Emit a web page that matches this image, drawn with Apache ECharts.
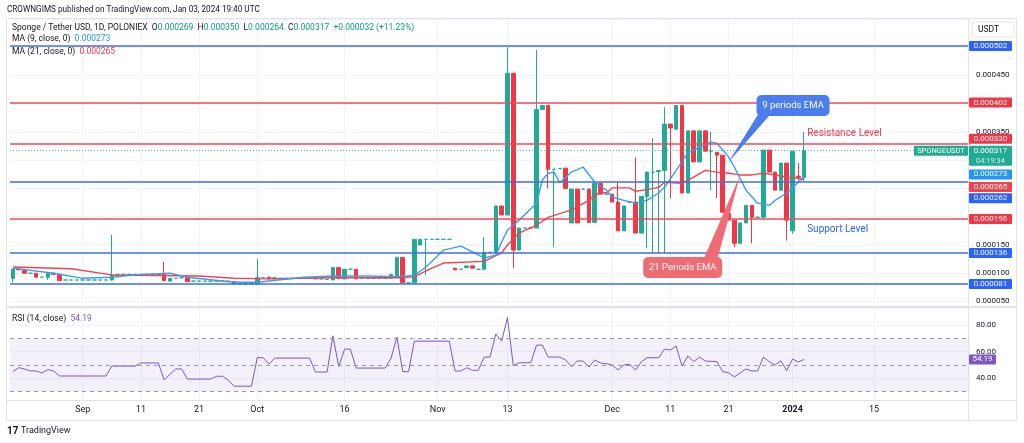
<!DOCTYPE html>
<html lang="en">
<head>
<meta charset="UTF-8">
<title>SPONGE / USDT 1D</title>
<script src="https://cdn.jsdelivr.net/npm/echarts@6.0.0/dist/echarts.min.js"></script>
<style>
    html, body { margin: 0; padding: 0; background: #fff; }
    #chart { width: 1024px; height: 443px; }
</style>
</head>
<body>
<div id="chart"></div>
<script type="text/javascript">
    // prices are in millionths of USDT (0.000001)
    var firstDay = Date.UTC(2023, 7, 20);
    var dayCount = 165;

    var tickDates = ['2023-09-01', '2023-09-11', '2023-09-21', '2023-10-01', '2023-10-16', '2023-11-01',
        '2023-11-13', '2023-12-01', '2023-12-11', '2023-12-21', '2024-01-01', '2024-01-15'];
    var tickTexts = ['Sep', '11', '21', 'Oct', '16', 'Nov', '13', 'Dec', '11', '21', '2024', '15'];

    // [open, close, low, high], one per day from Aug 20
    var candles = [
        [91, 107, 84, 108], [107, 106, 106, 107], [105, 100, 99, 106], [100, 100, 100, 100],
        [100, 93, 92, 100], [93, 93, 93, 93], [93, 100, 88, 100], [100, 98, 97, 101],
        [98, 87, 87, 98],
        [88, 88, 88, 88], [88, 88, 88, 88], [88, 88, 88, 88], [88, 88, 88, 88],
        [88, 88, 88, 88], [88, 88, 88, 88], [88, 88, 88, 88], [88, 88, 88, 88],
        [88, 97, 87, 168],
        [98, 98, 98, 98], [98, 98, 98, 98], [98, 98, 98, 98], [98, 98, 98, 98],
        [98, 98, 98, 98], [98, 98, 98, 98], [98, 98, 98, 98], [98, 98, 98, 98],
        [98, 87, 86, 120], [86, 91, 86, 91], [91, 91, 91, 91], [92, 92, 92, 92],
        [93, 85, 85, 93],
        [86, 86, 86, 86], [86, 86, 86, 86], [86, 86, 86, 86], [86, 86, 86, 86],
        [86, 86, 86, 86], [86, 86, 86, 86], [86, 86, 86, 86],
        [85, 81, 81, 85], [81, 81, 81, 81], [81, 81, 81, 81], [81, 81, 81, 81],
        [81, 92, 80, 125], [92, 92, 92, 92], [93, 90, 90, 93], [90, 92, 90, 92],
        [91, 91, 91, 91], [91, 91, 91, 91], [91, 91, 91, 91], [91, 91, 91, 91],
        [91, 91, 91, 91], [91, 91, 91, 91],
        [92, 90, 90, 92], [90, 90, 90, 90], [89, 89, 89, 89],
        [88, 110, 88, 110], [110, 91, 91, 110], [90, 107, 90, 107], [107, 107, 107, 107],
        [107, 90, 90, 107],
        [91, 91, 91, 91], [91, 91, 91, 91], [91, 91, 91, 91], [91, 91, 91, 91], [91, 91, 91, 91],
        [91, 98, 91, 98], [93, 128, 93, 128], [128, 83, 83, 128], [83, 83, 83, 83],
        [83, 160, 83, 160], [150, 160, 150, 160], [160, 160, 97, 160],
        [160, 160, 160, 160], [160, 160, 160, 160], [160, 160, 160, 160], [160, 160, 160, 160],
        [109, 106, 106, 109], [107, 107, 107, 107], [110, 113, 110, 113], [113, 109, 109, 113],
        [107, 107, 107, 107], [107, 137, 106, 164], [137, 137, 137, 137], [137, 219, 137, 219],
        [219, 203, 203, 219], [203, 454, 203, 500], [454, 141, 109, 454], [141, 180, 141, 180],
        [180, 180, 180, 180], [180, 180, 180, 180], [180, 390, 180, 495], [390, 397, 390, 397],
        [397, 284, 250, 397], [284, 284, 146, 284], [285, 285, 285, 285], [286, 250, 250, 286],
        [189, 249, 189, 249], [249, 189, 189, 249], [249, 249, 249, 249], [249, 190, 190, 249],
        [190, 259, 190, 259], [259, 240, 240, 259], [240, 240, 240, 240], [240, 226, 226, 240],
        [226, 175, 175, 261], [175, 219, 175, 219], [226, 226, 226, 226], [226, 171, 171, 305],
        [171, 236, 171, 236], [236, 279, 144, 279], [279, 279, 136, 339], [280, 282, 136, 282],
        [282, 364, 136, 394], [364, 357, 233, 364], [355, 397, 355, 397], [397, 242, 242, 397],
        [242, 352, 242, 352], [352, 297, 297, 352], [297, 352, 297, 352], [352, 316, 316, 352],
        [316, 316, 247, 350], [314, 309, 233, 314], [309, 208, 208, 309], [206, 194, 194, 206],
        [194, 153, 146, 194], [153, 189, 153, 189], [189, 220, 189, 220], [220, 199, 153, 220],
        [199, 199, 199, 199], [199, 318, 199, 318], [318, 279, 279, 318], [279, 247, 247, 279],
        [247, 295, 247, 295], [295, 194, 158, 295], [175, 316, 170, 316], [272, 270, 265, 295],
        [269, 317, 264, 350]
    ];

    // moving averages (day index -> value)
    var ma9Days = [0, 7, 12, 17, 22, 27, 30, 38, 42, 50, 55, 61, 66, 69, 71, 74, 77, 81, 83, 84,
        85, 87, 90, 91, 92, 93, 94, 96, 98, 100, 102, 103, 105, 107, 109, 111, 112, 114, 116, 118,
        120, 121, 123, 124, 126, 128, 130, 131, 133, 135, 136];
    var ma9Values = [109, 100, 91, 93, 98, 100, 93, 84, 84, 93, 95, 95, 94, 96, 111, 141, 148, 127, 132, 155,
        176, 194, 224, 265, 277, 279, 260, 279, 288, 261, 247, 235, 229, 224, 229, 242, 252, 282, 313, 323,
        332, 330, 306, 288, 247, 224, 220, 229, 242, 261, 273];
    var ma21Days = [0, 10, 17, 32, 38, 44, 50, 55, 61, 67, 69, 72, 74, 81, 84, 85, 87, 90, 92, 96,
        99, 101, 102, 103, 106, 107, 109, 111, 112, 115, 117, 119, 121, 123, 125, 127, 129, 131, 133, 135, 136];
    var ma21Values = [111, 108, 97, 95, 91, 90, 91, 92, 92, 92, 94, 109, 118, 121, 136, 150, 171, 185, 199, 212,
        229, 244, 242, 251, 251, 245, 248, 252, 261, 259, 270, 282, 279, 277, 274, 274, 277, 274, 270, 268, 265];

    var rsiDays = [0, 1, 2, 3, 4, 5, 6, 7, 8, 16, 17, 21, 22, 25, 26, 27, 28, 29, 30, 34, 35, 36, 37, 38, 41,
        42, 43, 44, 45, 51, 52, 54, 55, 56, 57, 58, 59, 64, 65, 66, 67, 68, 69, 75, 76, 77, 78, 79, 80,
        81, 82, 83, 84, 85, 86, 87, 89, 90, 91, 92, 94, 95, 96, 97, 98, 99, 100, 101, 102, 103, 104, 105,
        106, 107, 108, 109, 111, 112, 113, 114, 115, 116, 117, 118, 119, 121, 122, 123, 124, 125, 126,
        127, 128, 129, 130, 131, 132, 133, 134, 135, 136];
    var rsiValues = [45, 48, 47, 45.5, 45.5, 44, 46.5, 45.5, 41.7, 41.7, 49.2, 49.2, 51.5, 51.5, 38.7, 43, 47, 47,
        39.4, 39.4, 41.5, 41.5, 38.7, 34, 34, 55.5, 55.5, 50.8, 55.2, 55.2, 44.7, 44.7, 72, 48.8, 62, 62, 47.7,
        47.7, 55.2, 71, 45, 45, 68, 68, 45.5, 45.5, 48, 46, 46, 56, 56, 73.4, 68, 85.7, 49.5, 51.7, 51.7, 65, 65,
        56, 56, 53.8, 48.8, 53, 53, 48.5, 53.8, 51.5, 51, 50, 46.2, 50, 50.6, 46.2, 52.3, 55.5, 55.5, 62, 61.3,
        64.3, 49.2, 56.8, 52.5, 56, 53, 52.5, 45, 44.2, 41, 44, 47, 45.5, 45.5, 56, 52.5, 50, 53.2, 45.7, 54.5,
        52.3, 54.19];

    var levelValues = [502, 402, 330, 262, 196, 136, 81];
    var levelKinds = ['blue', 'red', 'red', 'blue', 'red', 'blue', 'blue'];
    var lastClose = 317;

    var BLUE = '#3f6de0', RED = '#ee4a58', UP = '#22ab94', DOWN = '#f23645';
    var FONT = 'Roboto';

    var dates = [];
    for (var d = 0; d < dayCount; d++) {
        dates.push(new Date(firstDay + d * 86400000).toISOString().slice(0, 10));
    }
    function isTick(index, value) { return tickDates.indexOf(value) >= 0; }
    function pairs(days, vals) {
        return days.map(function (day, k) { return [dates[day], vals[k]]; });
    }

    var levelLines = levelValues.map(function (v, k) {
        return { yAxis: v, lineStyle: { color: levelKinds[k] === 'blue' ? BLUE : RED, width: 1.6, type: 'solid' } };
    });
    levelLines.push({ yAxis: lastClose, lineStyle: { color: UP, width: 1, type: [1, 2], opacity: 0.8 } });

    var option = {
        animation: false,
        backgroundColor: '#ffffff',
        textStyle: { fontFamily: FONT },
        grid: [
            { left: 10, right: 54, top: 19, height: 287 },
            { left: 10, right: 54, top: 308, height: 92 }
        ],
        xAxis: [
            {
                type: 'category', gridIndex: 0, data: dates, boundaryGap: true,
                axisLine: { show: false }, axisTick: { show: false }, axisLabel: { show: false },
                splitLine: { show: true, interval: isTick, alignWithLabel: true, lineStyle: { color: '#f0f3fa' } }
            },
            {
                type: 'category', gridIndex: 1, data: dates, boundaryGap: true,
                axisLine: { show: false }, axisTick: { show: false },
                axisLabel: {
                    interval: isTick, color: '#131722', fontSize: 9, margin: 5,
                    formatter: function (value) {
                        var k = tickDates.indexOf(value);
                        if (k < 0) return '';
                        return tickTexts[k] === '2024' ? '{b|2024}' : tickTexts[k];
                    },
                    rich: { b: { fontWeight: 'bold', fontSize: 9, color: '#131722' } }
                },
                splitLine: { show: true, interval: isTick, alignWithLabel: true, lineStyle: { color: '#f0f3fa' } }
            }
        ],
        yAxis: [
            {
                type: 'value', gridIndex: 0, position: 'right', min: 42, max: 550, splitNumber: 10,
                axisLine: { show: false }, axisTick: { show: false },
                axisLabel: {
                    showMinLabel: false, showMaxLabel: false, color: '#131722', fontSize: 8, margin: 6,
                    formatter: function (v) { return (v / 1e6).toFixed(6); }
                },
                splitLine: { lineStyle: { color: '#f0f3fa' } }
            },
            {
                type: 'value', gridIndex: 1, position: 'right', min: 23.6, max: 93, splitNumber: 4,
                axisLine: { show: false }, axisTick: { show: false },
                axisLabel: {
                    showMinLabel: false, showMaxLabel: false, color: '#131722', fontSize: 8, margin: 6,
                    formatter: function (v) { return v.toFixed(2); }
                },
                splitLine: { lineStyle: { color: '#f0f3fa' } }
            }
        ],
        series: [
            {
                name: 'SPONGEUSDT', type: 'candlestick', xAxisIndex: 0, yAxisIndex: 0,
                data: candles, barWidth: 4,
                itemStyle: {
                    color: UP, color0: DOWN, borderColor: UP, borderColor0: DOWN,
                    borderColorDoji: UP, borderWidth: 1
                },
                markLine: { silent: true, symbol: 'none', label: { show: false }, data: levelLines }
            },
            {
                name: 'MA 21', type: 'line', xAxisIndex: 0, yAxisIndex: 0, data: pairs(ma21Days, ma21Values),
                showSymbol: false, lineStyle: { color: '#f0424f', width: 1.4 }, z: 3
            },
            {
                name: 'MA 9', type: 'line', xAxisIndex: 0, yAxisIndex: 0, data: pairs(ma9Days, ma9Values),
                showSymbol: false, lineStyle: { color: '#3d9bf0', width: 1.4 }, z: 4
            },
            {
                name: 'RSI', type: 'line', xAxisIndex: 1, yAxisIndex: 1, data: pairs(rsiDays, rsiValues),
                showSymbol: false, lineStyle: { color: '#7e57c2', width: 1 },
                markArea: {
                    silent: true, itemStyle: { color: 'rgba(126,87,194,0.09)' },
                    data: [[{ yAxis: 30 }, { yAxis: 70 }]]
                },
                markLine: {
                    silent: true, symbol: 'none', label: { show: false },
                    lineStyle: { color: '#9598a1', type: [4, 4], width: 1 },
                    data: [{ yAxis: 70 }, { yAxis: 50 }, { yAxis: 30 }]
                }
            }
        ]
    };

    var chart = echarts.init(document.getElementById('chart'));
    chart.setOption(option);

    function toPx(day, value, grid) {
        return chart.convertToPixel({ gridIndex: grid || 0 }, [dates[day], value]);
    }
    function priceY(value) { return toPx(0, value)[1]; }

    var g = [];
    function text(x, y, str, fill, size, extra) {
        var s = { text: str, fill: fill, fontSize: size, fontFamily: FONT, align: 'left', verticalAlign: 'middle' };
        for (var k in (extra || {})) s[k] = extra[k];
        g.push({ type: 'text', x: x, y: y, z: 100, silent: true, style: s });
    }
    function line(x1, y1, x2, y2, color, w) {
        g.push({ type: 'line', z: 90, silent: true, shape: { x1: x1, y1: y1, x2: x2, y2: y2 }, style: { stroke: color, lineWidth: w || 1 } });
    }
    function box(x, y, w, h, fill, r) {
        g.push({ type: 'rect', z: 95, silent: true, shape: { x: x, y: y, width: w, height: h, r: r || 0 }, style: { fill: fill } });
    }
    function axisTag(value, dy, fill, str) {
        var cy = priceY(value) + dy;
        box(969, cy - 5, 43, 10, fill, 1);
        text(990.5, cy, str, '#ffffff', 8, { align: 'center' });
    }

    // frame
    line(6.5, 18.5, 1016.5, 18.5, '#e0e3eb');
    line(6.5, 18.5, 6.5, 420.5, '#e0e3eb');
    line(1016.5, 18.5, 1016.5, 420.5, '#e0e3eb');
    line(6.5, 420.5, 1016.5, 420.5, '#e0e3eb');
    line(968.5, 18.5, 968.5, 420.5, '#e0e3eb');
    line(6.5, 307, 1016.5, 307, '#e0e3eb', 2);
    line(6.5, 400.5, 1016.5, 400.5, '#e0e3eb');

    // header
    text(7, 10, 'CROWNGIMS published on TradingView.com, Jan 03, 2024 19:40 UTC', '#131722', 8.2);
    g.push({
        type: 'text', x: 12, y: 28, z: 100, silent: true,
        style: {
            text: '{d|Sponge / Tether USD, 1D, POLONIEX}  {d|O}{u|0.000269}  {d|H}{u|0.000350}  {d|L}{u|0.000264}  {d|C}{u|0.000317}  {u|+0.000032 (+11.23%)}',
            fontSize: 8.5, fontFamily: FONT, verticalAlign: 'middle',
            rich: {
                d: { fill: '#131722', fontSize: 8.5, fontFamily: FONT },
                u: { fill: '#089981', fontSize: 8.5, fontFamily: FONT }
            }
        }
    });
    g.push({
        type: 'text', x: 12, y: 39, z: 100, silent: true,
        style: {
            text: '{d|MA (9, close, 0)}  {v|0.000273}', fontSize: 8.5, fontFamily: FONT, verticalAlign: 'middle',
            rich: { d: { fill: '#131722', fontSize: 8.5, fontFamily: FONT }, v: { fill: '#2196f3', fontSize: 8.5, fontFamily: FONT } }
        }
    });
    g.push({
        type: 'text', x: 12, y: 52, z: 100, silent: true,
        style: {
            text: '{d|MA (21, close, 0)}  {v|0.000265}', fontSize: 8.5, fontFamily: FONT, verticalAlign: 'middle',
            rich: { d: { fill: '#131722', fontSize: 8.5, fontFamily: FONT }, v: { fill: '#f23645', fontSize: 8.5, fontFamily: FONT } }
        }
    });
    g.push({
        type: 'text', x: 12, y: 319, z: 100, silent: true,
        style: {
            text: '{d|RSI (14, close)}  {v|54.19}', fontSize: 8.5, fontFamily: FONT, verticalAlign: 'middle',
            rich: { d: { fill: '#131722', fontSize: 8.5, fontFamily: FONT }, v: { fill: '#7e57c2', fontSize: 8.5, fontFamily: FONT } }
        }
    });

    // price axis unit
    g.push({ type: 'rect', z: 95, silent: true, shape: { x: 972, y: 22, width: 42, height: 15, r: 2 }, style: { fill: '#fff', stroke: '#e0e3eb' } });
    text(978, 29.5, 'USDT', '#131722', 8.5);

    // price tags on the axis
    axisTag(502, 0, '#2962ff', '0.000502');
    axisTag(402, 0, '#f23645', '0.000402');
    axisTag(330, -4.5, '#f23645', '0.000330');
    var cy317 = priceY(lastClose);
    box(969, cy317 - 5, 43, 20, '#22ab94', 1);
    text(990.5, cy317, '0.000317', '#ffffff', 8, { align: 'center' });
    text(990.5, cy317 + 10, '04:19:34', 'rgba(255,255,255,0.8)', 7.5, { align: 'center' });
    box(914, cy317 - 5, 54, 10, '#22ab94', 1);
    text(941, cy317, 'SPONGEUSDT', '#ffffff', 7.5, { align: 'center' });
    axisTag(273, -1, '#2196f3', '0.000273');
    axisTag(265, 7, '#f0424f', '0.000265');
    axisTag(262, 16.5, '#2962ff', '0.000262');
    axisTag(196, 0, '#f23645', '0.000196');
    axisTag(136, 0, '#2962ff', '0.000136');
    axisTag(81, 0, '#2962ff', '0.000081');
    var rsiY = toPx(0, 54.19, 1)[1];
    box(969, rsiY - 5, 27, 10, '#7e57c2', 1);
    text(982.5, rsiY, '54.19', '#ffffff', 8, { align: 'center' });

    // callouts
    var tip9 = toPx(123, 297);
    var b9x = tip9[0] + 28, b9y = tip9[1] - 67;
    g.push({ type: 'polygon', z: 96, silent: true, shape: { points: [[b9x + 3, b9y + 17], [b9x + 16, b9y + 17], tip9] }, style: { fill: '#4a7eee' } });
    box(b9x, b9y, 73, 21, '#4a7eee', 5);
    text(b9x + 36.5, b9y + 10.5, '9 periods EMA', '#ffffff', 9.5, { align: 'center' });

    var tip21 = toPx(125, 274);
    var b21x = tip21[0] - 97, b21y = tip21[1] + 82;
    g.push({ type: 'polygon', z: 96, silent: true, shape: { points: [[b21x + 60, b21y + 3], [b21x + 74, b21y + 3], tip21] }, style: { fill: '#ef6c75' } });
    box(b21x, b21y, 79, 21, '#ef6c75', 5);
    text(b21x + 39.5, b21y + 10.5, '21 Periods EMA', '#ffffff', 9.5, { align: 'center' });

    var res = toPx(136, 348);
    text(res[0] + 3, res[1], 'Resistance Level', '#f23645', 10);
    var sup = toPx(136, 178);
    text(sup[0] + 3, sup[1], 'Support Level', '#2962ff', 10);

    // footer logo
    text(7, 431, '17', '#131722', 10, { fontWeight: 'bold' });
    text(21, 431, 'TradingView', '#131722', 9);

    chart.setOption({ graphic: g });
</script>
</body>
</html>
